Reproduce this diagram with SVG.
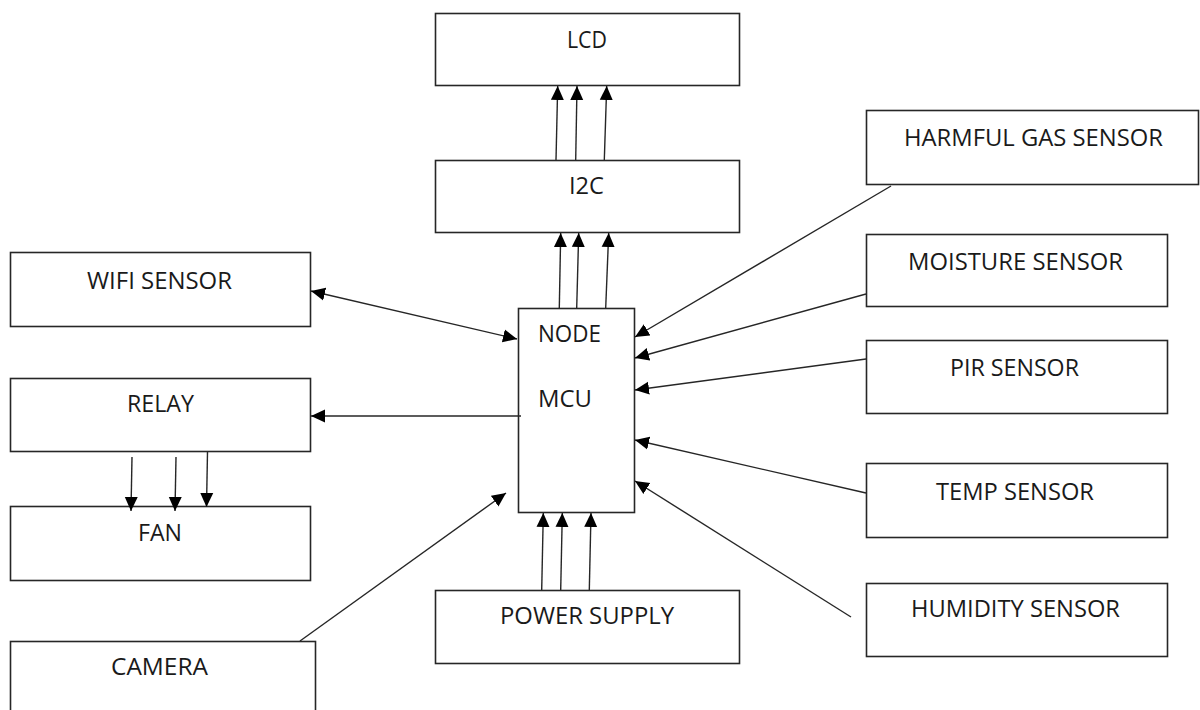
<svg xmlns="http://www.w3.org/2000/svg" width="1200" height="710" viewBox="0 0 1200 710">
<defs>
<marker id="ah" markerUnits="userSpaceOnUse" markerWidth="15" markerHeight="14" refX="14" refY="7" orient="auto-start-reverse" viewBox="0 0 15 14">
<path d="M0,0.5 L14,7 L0,13.5 z" fill="#000"/>
</marker>
<style>
.box{fill:#fff;stroke:#262626;stroke-width:1.6}
.lbl{font-family:"Open Sans","Liberation Sans",sans-serif;font-size:23px;fill:#1a1a1a}
.con{stroke:#262626;stroke-width:1.4;fill:none}
.arr{marker-end:url(#ah)}
.dbl{marker-start:url(#ah);marker-end:url(#ah)}
</style>
</defs>
<rect width="1200" height="710" fill="#fff"/>

<g id="lcd"><rect class="box" x="435.5" y="13.5" width="304" height="72"/><text class="lbl" x="567" y="48" textLength="40" lengthAdjust="spacingAndGlyphs">LCD</text></g>
<g id="i2c"><rect class="box" x="435.5" y="160.5" width="304" height="72"/><text class="lbl" x="569" y="194" textLength="35" lengthAdjust="spacingAndGlyphs">I2C</text></g>
<g id="harmful-gas"><rect class="box" x="866.5" y="110.5" width="332" height="74"/><text class="lbl" x="904" y="146" textLength="259" lengthAdjust="spacingAndGlyphs">HARMFUL GAS SENSOR</text></g>
<g id="moisture"><rect class="box" x="866.5" y="234.5" width="301" height="72"/><text class="lbl" x="908" y="270" textLength="215" lengthAdjust="spacingAndGlyphs">MOISTURE SENSOR</text></g>
<g id="pir"><rect class="box" x="866.5" y="340.5" width="301" height="73"/><text class="lbl" x="950" y="376" textLength="129" lengthAdjust="spacingAndGlyphs">PIR SENSOR</text></g>
<g id="temp"><rect class="box" x="866.5" y="463.5" width="301" height="74"/><text class="lbl" x="936" y="500" textLength="158" lengthAdjust="spacingAndGlyphs">TEMP SENSOR</text></g>
<g id="humidity"><rect class="box" x="866.5" y="583.5" width="301" height="73"/><text class="lbl" x="911" y="617" textLength="209" lengthAdjust="spacingAndGlyphs">HUMIDITY SENSOR</text></g>
<g id="wifi"><rect class="box" x="10.5" y="252.5" width="300" height="74"/><text class="lbl" x="87" y="289" textLength="145" lengthAdjust="spacingAndGlyphs">WIFI SENSOR</text></g>
<g id="relay"><rect class="box" x="10.5" y="378.5" width="300" height="73"/><text class="lbl" x="127" y="412" textLength="67" lengthAdjust="spacingAndGlyphs">RELAY</text></g>
<g id="fan"><rect class="box" x="10.5" y="506.5" width="300" height="74"/><text class="lbl" x="138" y="541" textLength="44" lengthAdjust="spacingAndGlyphs">FAN</text></g>
<g id="camera"><rect class="box" x="10.5" y="641.5" width="305" height="80"/><text class="lbl" x="111" y="675" textLength="97" lengthAdjust="spacingAndGlyphs">CAMERA</text></g>
<g id="power-supply"><rect class="box" x="435.5" y="590.5" width="304" height="73"/><text class="lbl" x="500" y="624" textLength="174" lengthAdjust="spacingAndGlyphs">POWER SUPPLY</text></g>
<g id="node-mcu"><rect class="box" x="518.5" y="308.5" width="116" height="204"/><text class="lbl" x="538" y="342" textLength="63" lengthAdjust="spacingAndGlyphs">NODE</text><text class="lbl" x="538" y="407" textLength="54" lengthAdjust="spacingAndGlyphs">MCU</text></g>

<g id="connectors">
<line class="con arr" x1="556" y1="160" x2="557.7" y2="86"/>
<line class="con arr" x1="575.7" y1="160" x2="577" y2="86"/>
<line class="con arr" x1="604.3" y1="160" x2="606.7" y2="86"/>
<line class="con arr" x1="559.3" y1="308" x2="560.7" y2="233"/>
<line class="con arr" x1="576.7" y1="308" x2="578.7" y2="233"/>
<line class="con arr" x1="605.7" y1="308" x2="608.7" y2="233"/>
<line class="con arr" x1="541.7" y1="590" x2="543.3" y2="513"/>
<line class="con arr" x1="560.7" y1="590" x2="562.3" y2="513"/>
<line class="con arr" x1="589.3" y1="590" x2="591" y2="513"/>
<line class="con arr" x1="891" y1="186" x2="635" y2="337"/>
<line class="con arr" x1="866" y1="294" x2="635" y2="358"/>
<line class="con arr" x1="866" y1="359" x2="635" y2="390"/>
<line class="con arr" x1="866" y1="493" x2="635" y2="440"/>
<line class="con arr" x1="851" y1="617" x2="635" y2="481"/>
<line class="con dbl" x1="311" y1="291" x2="517" y2="339"/>
<line class="con arr" x1="521" y1="416" x2="311" y2="416"/>
<line class="con arr" x1="132" y1="457" x2="131" y2="511"/>
<line class="con arr" x1="176" y1="457" x2="175" y2="511"/>
<line class="con arr" x1="207.5" y1="452" x2="206.5" y2="507"/>
<line class="con arr" x1="300" y1="641" x2="506" y2="493"/>
</g>
</svg>
